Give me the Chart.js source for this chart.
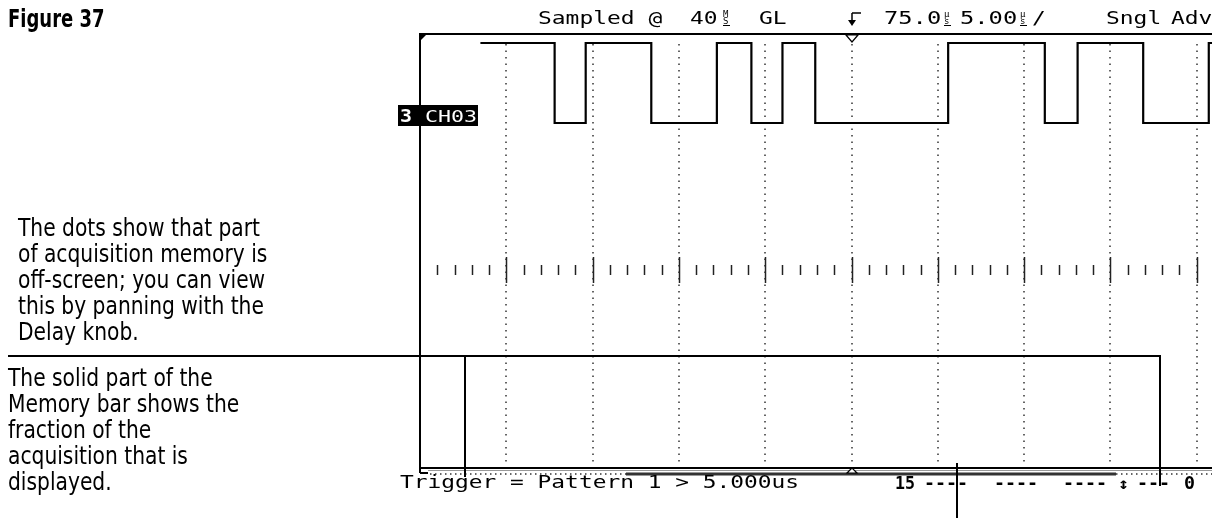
<!DOCTYPE html>
<html><head><meta charset="utf-8">
<script src="https://cdn.jsdelivr.net/npm/chart.js@4.4.1/dist/chart.umd.min.js"></script>
<style>
html,body{margin:0;padding:0;background:#fff;width:1212px;height:518px;overflow:hidden;position:relative}
#wrap{position:absolute;left:0;top:0;width:1300px;height:518px}
.note{position:absolute;font-family:"DejaVu Sans Condensed","Liberation Sans Narrow",sans-serif;font-size:25px;line-height:26px;color:#000;white-space:nowrap;z-index:2;transform:scaleX(0.9);transform-origin:0 0}
#fig{position:absolute;left:8px;top:6px;font-family:"DejaVu Sans Condensed","Liberation Sans Narrow",sans-serif;font-weight:bold;font-size:25px;line-height:25px;z-index:2;transform:scaleX(0.8);transform-origin:0 0}
</style></head>
<body>
<div id="fig">Figure 37</div>
<div class="note" style="left:18px;top:215px">The dots show that part<br>of acquisition memory is<br>off-screen; you can view<br>this by panning with the<br>Delay knob.</div>
<div class="note" style="left:8px;top:365px">The solid part of the<br>Memory bar shows the<br>fraction of the<br>acquisition that is<br>displayed.</div>
<div id="wrap"><canvas id="c"></canvas></div>
<script>
// ---- data (time in µs, logic level 1 = high, 0 = low) ----
const timeEdges   = [53.5, 57.8, 59.6, 63.4, 67.2, 69.2, 71.0, 72.9, 80.6, 86.2, 88.1, 91.9, 95.7, 100];
const logicLevels = [1,    0,    1,    0,    1,    0,    1,    0,    1,    0,    1,    0,    1,    1];
const gridTimes   = [55, 60, 65, 70, 75, 80, 85, 90, 95];
const timeMin = 50, timeMax = 100, triggerTime = 75;
const axisLevel = -1.84;
const headerTexts = ["Sampled @", "40", "GL", "75.0", "5.00", "/", "Sngl", "Adv"];
const triggerText = "Trigger = Pattern 1 > 5.000us";
const channelLabel = ["3", "CH03"];
const bitLabels = ["15", "----", "----", "----", "↕", "---", "0"];

function scopeText(ctx, str, x, yb, adv, size, bold, color){
  ctx.save();
  ctx.fillStyle = color || '#000';
  ctx.font = (bold ? 'bold ' : '') + size + 'px "DejaVu Sans Mono", monospace';
  ctx.textBaseline = 'alphabetic'; ctx.textAlign = 'left';
  const w = ctx.measureText('M').width;
  ctx.translate(x, yb); ctx.scale(adv / w, 1);
  ctx.fillText(str, 0, 0);
  ctx.restore();
}
function stacked(ctx, top, bot, x, yb){
  ctx.save(); ctx.fillStyle='#000';
  ctx.font = '9px "DejaVu Sans Mono", monospace';
  ctx.textBaseline='alphabetic';
  ctx.fillText(top, x, yb-7);
  ctx.fillText(bot, x, yb);
  ctx.fillRect(x, yb+1, 7, 1);
  ctx.restore();
}
function line(ctx, x1, y1, x2, y2){ ctx.beginPath(); ctx.moveTo(x1,y1); ctx.lineTo(x2,y2); ctx.stroke(); }

const scopePlugin = {
  id: 'scope',
  beforeDatasetsDraw(chart){
    const {ctx, chartArea: a, scales: {x, y}} = chart;
    ctx.save();
    ctx.strokeStyle = '#333'; ctx.lineWidth = 1.5; ctx.setLineDash([1.5, 5]);
    gridTimes.forEach(t => { const px = Math.round(x.getPixelForValue(t)); line(ctx, px, a.top + 10, px, a.bottom - 2); });
    ctx.setLineDash([]);
    const cy = Math.round(y.getPixelForValue(axisLevel));
    ctx.strokeStyle = '#222'; ctx.lineWidth = 1.5;
    for (let t = timeMin + 1; t < timeMax; t++) {
      const px = Math.round(x.getPixelForValue(t)) + 0.5;
      if (t % 5 === 0) line(ctx, px, cy - 13, px, cy + 13);
      else line(ctx, px, cy - 5, px, cy + 5);
    }
    ctx.restore();
  },
  afterDatasetsDraw(chart){
    const {ctx, chartArea: a, scales: {x, y}} = chart;
    const W = chart.width;
    ctx.save();
    ctx.strokeStyle = '#000'; ctx.fillStyle = '#000';
    ctx.lineWidth = 2;
    line(ctx, a.left, a.top, W, a.top);
    line(ctx, a.left, a.top, a.left, a.bottom + 5);
    line(ctx, a.left, a.bottom, W, a.bottom);
    ctx.strokeStyle = '#999'; ctx.lineWidth = 1; line(ctx, a.left + 8, a.bottom + 2.5, W, a.bottom + 2.5);
    ctx.strokeStyle = '#000'; ctx.lineWidth = 2;
    line(ctx, a.left, a.bottom + 5, a.left + 8, a.bottom + 5);
    ctx.beginPath(); ctx.moveTo(a.left - 1, a.top - 1); ctx.lineTo(a.left + 8, a.top - 1); ctx.lineTo(a.left - 1, a.top + 8); ctx.closePath(); ctx.fill();
    const tx = Math.round(x.getPixelForValue(triggerTime));
    ctx.lineWidth = 1.2; ctx.fillStyle = '#fff';
    ctx.beginPath(); ctx.moveTo(tx - 6, a.top + 1); ctx.lineTo(tx + 6, a.top + 1); ctx.lineTo(tx, a.top + 8); ctx.closePath(); ctx.fill(); ctx.stroke();
    // memory bar
    const my = a.bottom + 6;
    ctx.strokeStyle = '#333'; ctx.lineWidth = 1.5; ctx.setLineDash([1.5, 3.5]);
    line(ctx, a.left + 10, my, 626, my);
    line(ctx, 1116, my, W, my);
    ctx.setLineDash([]);
    ctx.strokeStyle = '#333'; ctx.lineWidth = 3; line(ctx, 626, my, 1116, my);
    ctx.strokeStyle = '#000'; ctx.lineWidth = 1.2; ctx.fillStyle = '#fff';
    ctx.beginPath(); ctx.moveTo(tx, my - 6); ctx.lineTo(tx - 5, my - 1); ctx.lineTo(tx + 5, my - 1); ctx.closePath(); ctx.fill(); ctx.stroke();
    // header text
    const hb = 24;
    scopeText(ctx, headerTexts[0], 538, hb, 13.8, 17);
    scopeText(ctx, headerTexts[1], 690, hb, 13.8, 17);
    stacked(ctx, 'M', 'S', 723, hb);
    scopeText(ctx, headerTexts[2], 759, hb, 13.8, 17);
    ctx.strokeStyle = '#000'; ctx.fillStyle = '#000'; ctx.lineWidth = 1.5;
    line(ctx, tx, 13, tx + 9, 13); line(ctx, tx, 13, tx, 23);
    ctx.beginPath(); ctx.moveTo(tx - 4, 20); ctx.lineTo(tx + 4, 20); ctx.lineTo(tx, 26); ctx.closePath(); ctx.fill();
    scopeText(ctx, headerTexts[3], 884, hb, 14.3, 17);
    stacked(ctx, 'µ', 's', 944, hb);
    scopeText(ctx, headerTexts[4], 960, hb, 14.3, 17);
    stacked(ctx, 'µ', 's', 1020, hb);
    scopeText(ctx, headerTexts[5], 1032, hb, 13.8, 17);
    scopeText(ctx, headerTexts[6], 1106, hb, 13.8, 17);
    scopeText(ctx, headerTexts[7], 1171, hb, 13.8, 17);
    // channel label
    ctx.fillStyle = '#000'; ctx.fillRect(398, 105, 80, 21);
    scopeText(ctx, channelLabel[0], 400, 122, 12, 17, true, '#fff');
    scopeText(ctx, channelLabel[1], 425, 122, 13, 16, false, '#fff');
    // bottom line text
    const bb = 488;
    scopeText(ctx, triggerText, 400, bb, 13.76, 17);
    scopeText(ctx, bitLabels[0], 895, bb + 1, 10, 17, true);
    scopeText(ctx, bitLabels[1], 924, bb + 1, 11, 17, true);
    scopeText(ctx, bitLabels[2], 994, bb + 1, 11, 17, true);
    scopeText(ctx, bitLabels[3], 1063, bb + 1, 11, 17, true);
    scopeText(ctx, bitLabels[4], 1118, bb + 1, 11, 16, true);
    scopeText(ctx, bitLabels[5], 1137, bb + 1, 11, 17, true);
    scopeText(ctx, bitLabels[6], 1184, bb + 1, 11, 17, true);
    // callout lines
    ctx.strokeStyle = '#000'; ctx.lineWidth = 2;
    line(ctx, 8, 356, 1161, 356);
    line(ctx, 465, 356, 465, 477);
    line(ctx, 1160, 356, 1160, 486);
    line(ctx, 957, 463, 957, 518);
    ctx.restore();
  }
};

new Chart(document.getElementById('c'), {
  type: 'line',
  data: { datasets: [{
    data: timeEdges.map((t, i) => ({x: t, y: logicLevels[i]})),
    borderColor: '#000', borderWidth: 2.2, stepped: 'before', pointRadius: 0, fill: false
  }]},
  options: {
    responsive: true, maintainAspectRatio: false, animation: false, events: [],
    layout: { padding: { left: 420, top: 34, right: 17, bottom: 50 } },
    plugins: { legend: { display: false }, tooltip: { enabled: false } },
    scales: {
      x: { type: 'linear', min: timeMin, max: timeMax, display: false },
      y: { min: -4.3125, max: 1.1125, display: false }
    }
  },
  plugins: [scopePlugin]
});
</script>
</body></html>
